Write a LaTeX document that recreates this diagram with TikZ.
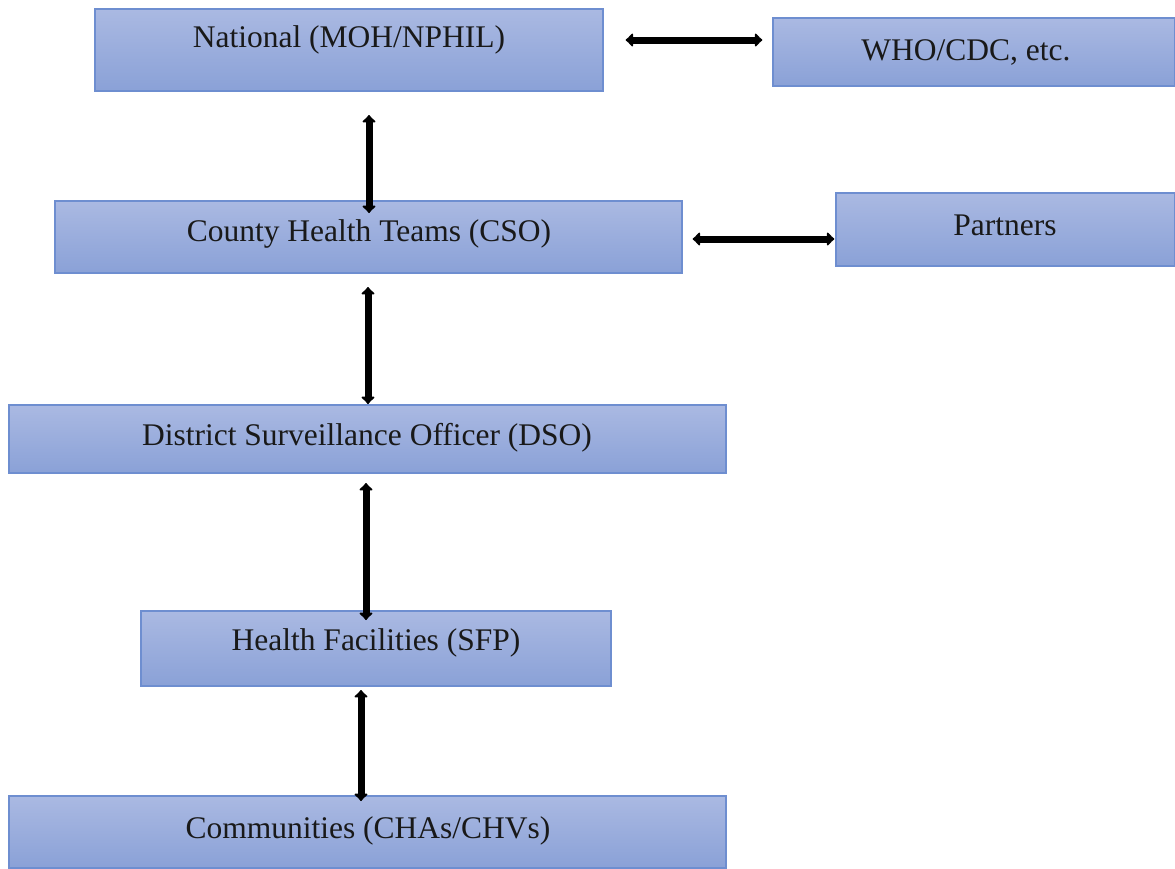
\documentclass[tikz,border=0pt]{standalone}
\usepackage{fontspec}
\setmainfont{Liberation Serif}
\usetikzlibrary{arrows.meta}
\definecolor{boxtop}{RGB}{170,185,226}
\definecolor{boxbot}{RGB}{138,161,215}
\definecolor{boxline}{RGB}{110,142,208}
\tikzset{
  box/.style={draw=boxline, line width=1.3pt, top color=boxtop, bottom color=boxbot, minimum width=#1, inner sep=0pt, shape=rectangle},
  lbl/.style={font=\fontsize{31.5}{36}\selectfont, inner sep=0pt, text=black!90},
  link/.style={line width=7pt, {Latex[length=8pt,width=17pt,round]}-{Latex[length=8pt,width=17pt,round]}}
}
\begin{document}
\begin{tikzpicture}[x=1pt,y=-1pt]
\useasboundingbox (0,0) rectangle (1175,868);
% boxes
\node[box=508pt, minimum height=82pt] (nat) at (349,50) {};
\node[box=402pt, minimum height=68pt] (who) at (974,52) {};
\node[box=627pt, minimum height=72pt] (cty) at (368.5,237) {};
\node[box=339pt, minimum height=73pt] (par) at (1005.5,229.5) {};
\node[box=717pt, minimum height=68pt] (dso) at (367.5,439) {};
\node[box=470pt, minimum height=75pt] (hf) at (376,648.5) {};
\node[box=717pt, minimum height=72pt] (com) at (367.5,832) {};
% labels
\node[lbl] (natT) at (349,40) {National (MOH/NPHIL)};
\node[lbl] (whoT) at (966,52) {WHO/CDC, etc.};
\node[lbl] (ctyT) at (369,234) {County Health Teams (CSO)};
\node[lbl] (parT) at (1005,225) {Partners};
\node[lbl] (dsoT) at (367,438) {District Surveillance Officer (DSO)};
\node[lbl] (hfT) at (376,643) {Health Facilities (SFP)};
\node[lbl] (comT) at (368,831) {Communities (CHAs/CHVs)};
% connectors
\draw[link] ([xshift=22pt]nat.east |- 0,40) -- ([xshift=-10pt]who.west |- 0,40);
\draw[link] (369,115) coordinate (a1) -- (369,213) coordinate (a2);
\draw[link] ([xshift=10pt]cty.east |- 0,239) -- ([xshift=-1pt]par.west |- 0,239);
\draw[link] (368,287) coordinate (b1) -- (368,404) coordinate (b2);
\draw[link] (366,483) coordinate (c1) -- (366,620) coordinate (c2);
\draw[link] (361,690) coordinate (d1) -- (361,801) coordinate (d2);
\end{tikzpicture}
\end{document}
